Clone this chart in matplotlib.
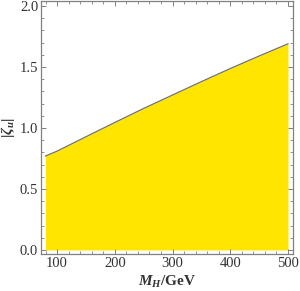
import numpy as np
import matplotlib.pyplot as plt
from matplotlib.ticker import MultipleLocator

plt.rcParams["font.family"] = "Liberation Serif"
plt.rcParams["mathtext.fontset"] = "custom"
plt.rcParams["mathtext.rm"] = "Liberation Serif:bold"
plt.rcParams["mathtext.it"] = "Liberation Serif:italic:bold"
plt.rcParams["mathtext.bf"] = "Liberation Serif:bold"

# upper edge of the allowed region
m_h = [80, 100, 150, 200, 250, 300, 350, 400, 450, 500]
zeta_u = [0.77, 0.81, 0.928, 1.045, 1.16, 1.27, 1.38, 1.487, 1.59, 1.69]

frame_col = "#808080"
text_col = "#333333"

fig = plt.figure(figsize=(3.0, 2.91), dpi=100)
ax = fig.add_axes([41 / 300, 37 / 291, 252 / 300, 253.5 / 291])

ax.fill_between(m_h, 0, zeta_u, color="#FFE500", linewidth=0)
ax.plot(m_h, zeta_u, color="#707070", linewidth=0.9)

ax.set_xlim(72.2, 508.7)
ax.set_ylim(-0.033, 2.045)

ax.xaxis.set_major_locator(MultipleLocator(100))
ax.xaxis.set_minor_locator(MultipleLocator(20))
ax.yaxis.set_major_locator(MultipleLocator(0.5))
ax.yaxis.set_minor_locator(MultipleLocator(0.1))
ax.yaxis.set_major_formatter(plt.FuncFormatter(lambda v, p: f"{v:.1f}"))

ax.tick_params(which="both", direction="in", top=True, right=True,
               color=frame_col, labelcolor=text_col, labelsize=10.5, pad=2)
ax.tick_params(which="major", length=3.5, width=0.7)
ax.tick_params(which="minor", length=2, width=0.6)
for s in ax.spines.values():
    s.set_color(frame_col)
    s.set_linewidth(0.9)

ax.set_xlabel(r"$M_H$/GeV", fontsize=11, fontweight="bold", color=text_col, labelpad=3)
ax.set_ylabel(r"$|\zeta_u|$", fontsize=11, fontweight="bold", color=text_col, labelpad=2)

fig.savefig("out.png", dpi=100)
